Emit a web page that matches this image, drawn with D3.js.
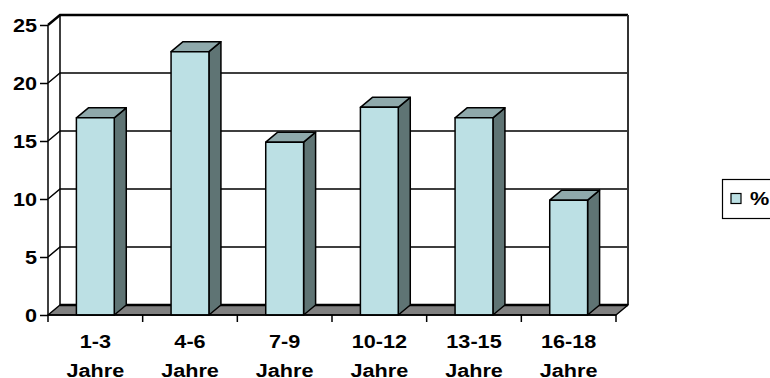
<!DOCTYPE html>
<html>
<head>
<meta charset="utf-8">
<script src="https://cdn.jsdelivr.net/npm/d3@7"></script>
<style>
  html, body { margin: 0; padding: 0; background: #fff; }
  svg { display: block; }
  text { font-family: "Liberation Sans", Arial, sans-serif; font-weight: bold; fill: #000; }
</style>
</head>
<body>
<svg id="chart" width="770" height="378"></svg>
<script>
// Age groups and their share in percent
const categories = ["1-3", "4-6", "7-9", "10-12", "13-15", "16-18"];
const categoryUnit = "Jahre";
const values = [17, 22.7, 14.9, 17.9, 17, 9.9];
const yTicks = [0, 5, 10, 15, 20, 25];
const seriesName = "%";

const W = 770, H = 378;
const depthX = 12, depthY = -10;          // offset of the back plane
const textStretch = 1.17;                  // horizontally widened labels
const fontSize = 18.5;

const colFront = "#bce0e4", colTop = "#8fa9ab", colSide = "#5f7474", colFloor = "#808080";

const svg = d3.select("#chart");

const x = d3.scaleBand()
  .domain(categories)
  .range([48, 616])
  .paddingInner(0.6)
  .paddingOuter(0.3);

const y = d3.scaleLinear().domain([0, 25]).range([315, 25]);

const x0 = x.range()[0], x1 = x.range()[1];
const yTop = y(25), yBase = y(0);

// Back wall gridlines and left wall diagonals
const grid = svg.append("g").attr("stroke", "#000").attr("stroke-width", 1.5).attr("fill", "none");
yTicks.filter(v => v > 0 && v < 25).forEach(v => {
  const yb = y(v) + depthY;
  grid.append("path")
    .attr("d", `M${x0},${y(v)}L${x0 + depthX},${yb}L${x1 + depthX},${yb}`);
});

// Back wall outline: left edge, top, right edge
svg.append("path")
  .attr("d", `M${x0 + depthX},${yBase + depthY}L${x0 + depthX},${yTop + depthY}`)
  .attr("stroke", "#000").attr("stroke-width", 1.5).attr("fill", "none");
svg.append("path")
  .attr("d", `M${x0},${yTop}L${x0 + depthX},${yTop + depthY}L${x1 + depthX},${yTop + depthY}`)
  .attr("stroke", "#000").attr("stroke-width", 2.5).attr("fill", "none");
svg.append("path")
  .attr("d", `M${x1 + depthX},${yTop + depthY}L${x1 + depthX},${yBase + depthY}`)
  .attr("stroke", "#333").attr("stroke-width", 2).attr("fill", "none");

// Floor
svg.append("path")
  .attr("d", `M${x0},${yBase}L${x1},${yBase}L${x1 + depthX},${yBase + depthY}L${x0 + depthX},${yBase + depthY}Z`)
  .attr("fill", colFloor).attr("stroke", "#000").attr("stroke-width", 1.5).attr("stroke-linejoin", "round");
svg.append("path")
  .attr("d", `M${x0 + depthX},${yBase + depthY}L${x1 + depthX},${yBase + depthY}`)
  .attr("stroke", "#000").attr("stroke-width", 2.5);

// Columns: front, top, side faces
const bars = svg.append("g").attr("stroke", "#000").attr("stroke-width", 1.5).attr("stroke-linejoin", "round");
categories.forEach((c, i) => {
  const bx = x(c), bw = x.bandwidth(), by = y(values[i]);
  bars.append("path")
    .attr("d", `M${bx + bw},${by}L${bx + bw + depthX},${by + depthY}L${bx + bw + depthX},${yBase + depthY}L${bx + bw},${yBase}Z`)
    .attr("fill", colSide);
  bars.append("path")
    .attr("d", `M${bx},${by}L${bx + depthX},${by + depthY}L${bx + bw + depthX},${by + depthY}L${bx + bw},${by}Z`)
    .attr("fill", colTop);
  bars.append("rect")
    .attr("x", bx).attr("y", by).attr("width", bw).attr("height", yBase - by)
    .attr("fill", colFront);
});

// Y axis
const yAxis = svg.append("g")
  .attr("transform", `translate(${x0},0)`)
  .call(d3.axisLeft(y).tickValues(yTicks).tickSize(8).tickSizeOuter(0).tickPadding(3));
yAxis.select(".domain").attr("stroke", "#000").attr("stroke-width", 1.5).attr("d", `M0,${yTop}V${yBase}`);
yAxis.selectAll(".tick line").attr("stroke", "#000").attr("stroke-width", 1.5);
yAxis.selectAll(".tick text")
  .attr("x", null).attr("dy", "0.36em")
  .attr("transform", `translate(-11,0) scale(${textStretch},1)`)
  .attr("font-family", null)
  .style("font-size", fontSize + "px");

// X axis: baseline, ticks at category boundaries, two-line labels
const step = x.step();
const bounds = categories.map(c => x(c) - step * x.paddingInner() / 2).concat([x1]);
const xAxis = svg.append("g");
xAxis.append("line").attr("x1", x0).attr("x2", x1).attr("y1", yBase).attr("y2", yBase)
  .attr("stroke", "#000").attr("stroke-width", 1.5);
xAxis.selectAll("line.tk").data(bounds).join("line").attr("class", "tk")
  .attr("x1", d => d).attr("x2", d => d).attr("y1", yBase).attr("y2", yBase + 7)
  .attr("stroke", "#000").attr("stroke-width", 1.5);
const lbl = xAxis.selectAll("g.lbl").data(categories).join("g").attr("class", "lbl")
  .attr("transform", c => `translate(${x(c) + x.bandwidth() / 2},0)`);
lbl.append("text")
  .attr("text-anchor", "middle")
  .attr("transform", `translate(0,348) scale(${textStretch},1)`)
  .style("font-size", fontSize + "px")
  .text(c => c);
lbl.append("text")
  .attr("text-anchor", "middle")
  .attr("transform", `translate(0,377) scale(${textStretch},1)`)
  .style("font-size", fontSize + "px")
  .text(categoryUnit);

// Legend
const legend = svg.append("g");
legend.append("rect").attr("x", 722.5).attr("y", 179.5).attr("width", 70).attr("height", 39)
  .attr("fill", "#fff").attr("stroke", "#000").attr("stroke-width", 1.2);
legend.append("rect").attr("x", 731).attr("y", 193.5).attr("width", 10).attr("height", 10)
  .attr("fill", colFront).attr("stroke", "#000").attr("stroke-width", 1.2);
legend.append("text")
  .attr("transform", `translate(750,205) scale(${textStretch},1)`)
  .style("font-size", fontSize + "px")
  .text(seriesName);
</script>
</body>
</html>
